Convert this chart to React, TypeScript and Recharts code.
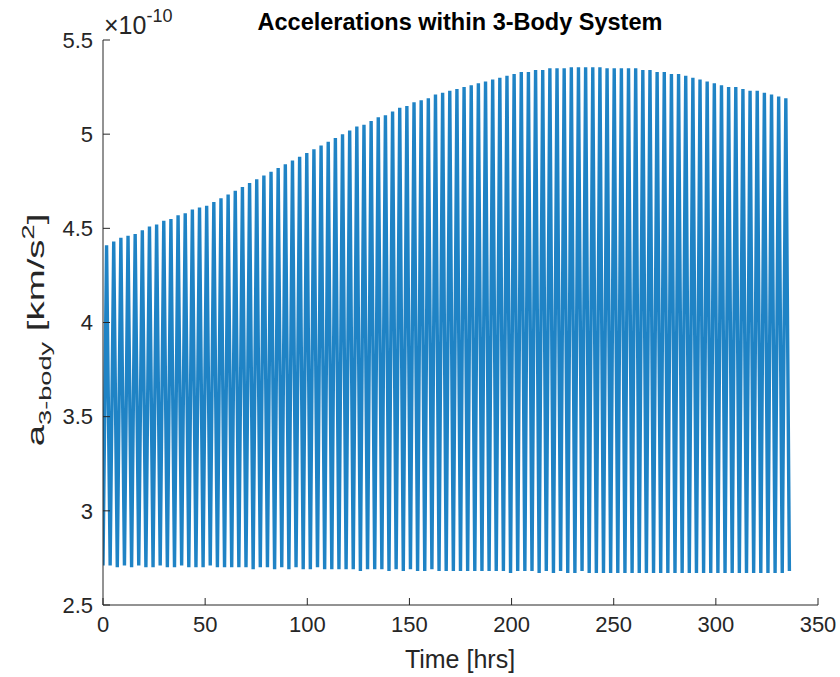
import { LineChart, Line, XAxis, YAxis } from 'recharts';

// time axis: alternating trough / peak every half cycle (hrs)
const halfCycle = 1.75;
const xTicks = [0, 50, 100, 150, 200, 250, 300, 350];
const yTicks = [2.5, 3, 3.5, 4, 4.5, 5, 5.5];

// minima of each oscillation (x 1e-10 km/s^2)
const troughs = [
  2.71, 2.71, 2.7, 2.71, 2.7, 2.71, 2.7, 2.7, 2.71, 2.7,
  2.7, 2.71, 2.7, 2.7, 2.7, 2.71, 2.7, 2.7, 2.7, 2.7,
  2.7, 2.69, 2.7, 2.7, 2.69, 2.7, 2.69, 2.7, 2.69, 2.69,
  2.7, 2.69, 2.69, 2.69, 2.69, 2.69, 2.68, 2.69, 2.69, 2.69,
  2.68, 2.69, 2.68, 2.69, 2.68, 2.68, 2.69, 2.68, 2.68, 2.68,
  2.68, 2.68, 2.68, 2.68, 2.68, 2.68, 2.68, 2.67, 2.68, 2.68,
  2.68, 2.67, 2.68, 2.67, 2.68, 2.67, 2.67, 2.68, 2.67, 2.67,
  2.67, 2.67, 2.67, 2.67, 2.67, 2.67, 2.67, 2.67, 2.67, 2.67,
  2.67, 2.67, 2.67, 2.67, 2.67, 2.67, 2.67, 2.67, 2.67, 2.67,
  2.67, 2.67, 2.67, 2.67, 2.67, 2.67, 2.68,
];

// maxima of each oscillation
const peaks = [
  4.41, 4.43, 4.45, 4.46, 4.47, 4.49, 4.51, 4.52, 4.54, 4.55,
  4.57, 4.58, 4.6, 4.61, 4.62, 4.64, 4.66, 4.68, 4.7, 4.72,
  4.74, 4.76, 4.78, 4.8, 4.82, 4.84, 4.86, 4.88, 4.9, 4.92,
  4.94, 4.96, 4.98, 5.0, 5.02, 5.04, 5.05, 5.07, 5.09, 5.1,
  5.12, 5.14, 5.15, 5.17, 5.18, 5.19, 5.21, 5.22, 5.23, 5.24,
  5.25, 5.26, 5.27, 5.28, 5.29, 5.3, 5.31, 5.32, 5.33, 5.33,
  5.34, 5.34, 5.35, 5.35, 5.35, 5.355, 5.355, 5.355, 5.355, 5.355,
  5.35, 5.35, 5.35, 5.35, 5.35, 5.34, 5.34, 5.33, 5.33, 5.32,
  5.32, 5.31, 5.3, 5.29, 5.28, 5.27, 5.26, 5.25, 5.25, 5.24,
  5.23, 5.23, 5.22, 5.21, 5.2, 5.19,
];

const data: { t: number; a: number }[] = [];
troughs.forEach((lo, i) => {
  data.push({ t: i * 2 * halfCycle, a: lo });
  if (i < peaks.length) data.push({ t: (i * 2 + 1) * halfCycle, a: peaks[i] });
});

const axisColor = '#262626';
const font = '"Liberation Sans", Arial, sans-serif';
const tickStyle = { fill: axisColor, fontSize: 22, fontFamily: font };

export default function App() {
  return (
    <div style={{ position: 'absolute', left: 0, top: 0, width: 840, height: 677, background: '#fff' }}>
      <LineChart
        width={840}
        height={677}
        data={data}
        margin={{ top: 40, right: 22, bottom: 12, left: 23 }}
      >
        <XAxis
          dataKey="t"
          type="number"
          domain={[0, 350]}
          ticks={xTicks}
          height={60}
          tickSize={-7}
          tickMargin={18}
          tick={tickStyle}
          stroke={axisColor}
          allowDataOverflow
        />
        <XAxis
          xAxisId="top"
          dataKey="t"
          type="number"
          orientation="top"
          domain={[0, 350]}
          ticks={xTicks}
          height={0}
          tickSize={-7}
          tick={false}
          stroke={axisColor}
        />
        <YAxis
          type="number"
          domain={[2.5, 5.5]}
          ticks={yTicks}
          width={80}
          tickSize={-7}
          tickMargin={17}
          tick={tickStyle}
          stroke={axisColor}
          allowDataOverflow
        />
        <YAxis
          yAxisId="right"
          type="number"
          orientation="right"
          domain={[2.5, 5.5]}
          ticks={yTicks}
          width={0}
          tickSize={-7}
          tick={false}
          stroke={axisColor}
        />
        <Line
          type="linear"
          dataKey="a"
          stroke="#0072BD"
          strokeWidth={3.4}
          strokeOpacity={0.88}
          strokeLinejoin="miter"
          dot={false}
          isAnimationActive={false}
        />
      </LineChart>

      {/* title, exponent and axis labels */}
      <svg
        width={840}
        height={677}
        style={{ position: 'absolute', left: 0, top: 0, pointerEvents: 'none' }}
        fontFamily={font}
      >
        <text x={460} y={30} textAnchor="middle" fontSize={23.5} fontWeight="bold" fill="#000">
          Accelerations within 3-Body System
        </text>
        <text x={104} y={34} fontSize={25} fill={axisColor}>
          ×10
          <tspan dy={-12} fontSize={18}>-10</tspan>
        </text>
        <text x={460} y={668} textAnchor="middle" fontSize={25} fill={axisColor}>
          Time [hrs]
        </text>
        <text
          transform="translate(44 330) rotate(-90) scale(1.6 1)"
          textAnchor="middle"
          fontSize={24}
          fill={axisColor}
        >
          a
          <tspan dy={7} fontSize={17}>3-body</tspan>
          <tspan dy={-7}> [km/s</tspan>
          <tspan dy={-10} fontSize={17}>2</tspan>
          <tspan dy={10}>]</tspan>
        </text>
      </svg>
    </div>
  );
}
